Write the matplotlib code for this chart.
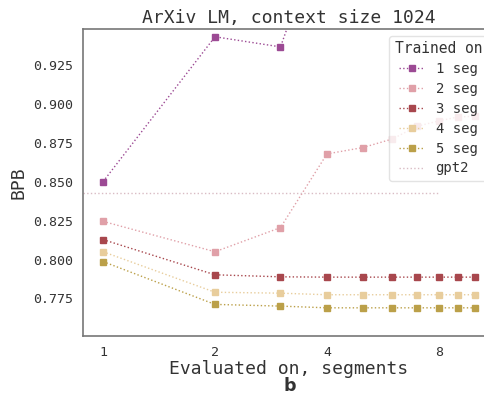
import numpy as np
import matplotlib
matplotlib.use('Agg')
import matplotlib.pyplot as plt

# evaluated on, segments
segments = [1, 2, 3, 4, 5, 6, 7, 8, 9, 10]

# BPB for models trained on 1..5 segments
bpb_1seg = [0.850, 0.943, 0.9365, 1.02]
bpb_2seg = [0.8245, 0.805, 0.8205, 0.8678, 0.8719, 0.8774, 0.8856, 0.889, 0.8915, 0.892]
bpb_3seg = [0.8128, 0.7902, 0.7889, 0.7887, 0.7887, 0.7887, 0.7887, 0.7887, 0.7887, 0.7887]
bpb_4seg = [0.805, 0.779, 0.7784, 0.7774, 0.7774, 0.7774, 0.7774, 0.7774, 0.7774, 0.7774]
bpb_5seg = [0.7987, 0.7712, 0.7701, 0.769, 0.769, 0.769, 0.769, 0.769, 0.769, 0.769]
gpt2_bpb = 0.843

labels = ['1 seg', '2 seg', '3 seg', '4 seg', '5 seg']
colors = ['#9c4a94', '#e0a0a8', '#a8474d', '#e8cd9c', '#bba049']
series = [bpb_1seg, bpb_2seg, bpb_3seg, bpb_4seg, bpb_5seg]

plt.rcParams['font.family'] = 'DejaVu Sans Mono'

fig = plt.figure(figsize=(4.85, 3.97), dpi=100)
# axes run past the right edge, like the cropped original
ax = fig.add_axes([0.171, 0.154, 0.849, 0.773])

for vals, lab, col in zip(series, labels, colors):
    ax.plot(segments[:len(vals)], vals, linestyle=':', linewidth=1.0,
            marker='s', markersize=5, color=col, label=lab)

ax.set_xscale('log', base=2)
ax.set_xlim(0.883, 11.3)
ax.set_ylim(0.751, 0.948)
ax.hlines(gpt2_bpb, 0.883, 8, linestyles=':', linewidth=1.0,
          color='#d9bcc4', label='gpt2')

ax.set_xticks([1, 2, 4, 8])
ax.set_xticklabels(['1', '2', '4', '8'])
ax.set_yticks([0.775, 0.800, 0.825, 0.850, 0.875, 0.900, 0.925])
ax.minorticks_off()
ax.tick_params(axis='both', length=0, labelsize=9.5, labelcolor='#333333')
ax.tick_params(axis='y', pad=7)
ax.tick_params(axis='x', pad=7)

for s in ax.spines.values():
    s.set_color('#777777')
    s.set_linewidth(1.2)

ax.set_title('ArXiv LM, context size 1024', fontsize=13, color='#333333', pad=4)
ax.set_xlabel('Evaluated on, segments', fontsize=13, color='#333333', labelpad=1)
ax.set_ylabel('BPB', fontsize=13, color='#333333', labelpad=4)

leg = ax.legend(title='Trained on', loc='upper right', fontsize=10, title_fontsize=10.5,
                handlelength=1.8, framealpha=0.8, labelspacing=0.42,
                bbox_to_anchor=(1.0, 1.0))
leg.get_frame().set_edgecolor('#dddddd')
for t in leg.get_texts():
    t.set_color('#333333')
leg.get_title().set_color('#333333')

fig.text(0.597, 0.006, 'b', fontsize=12.5, fontweight='bold', family='DejaVu Sans',
         ha='center', va='bottom', color='#333333')

fig.savefig('out.png', dpi=100)
